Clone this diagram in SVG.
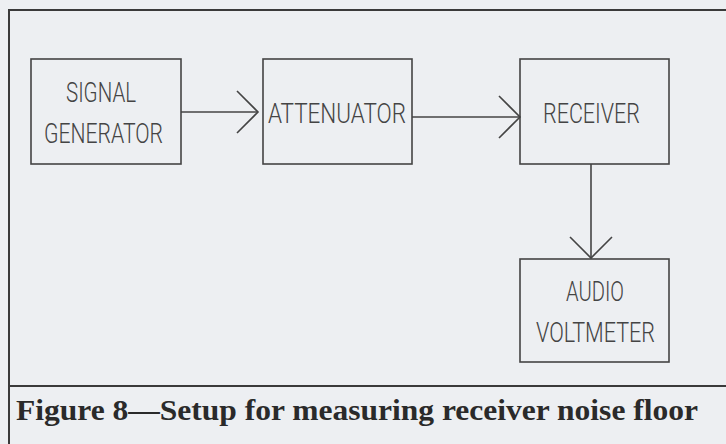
<svg xmlns="http://www.w3.org/2000/svg" width="726" height="444" viewBox="0 0 726 444">
<style>
.box{fill:none;stroke:#444;stroke-width:1.6}
.lbl{font-family:Roboto,"Liberation Sans",Arial,sans-serif;font-weight:300;font-size:28px;fill:#444;text-anchor:start}
.frame{fill:none;stroke:#3a3a3a;stroke-width:2}
.conn{fill:none;stroke:#444;stroke-width:1.6}
.cap{font-family:"Liberation Serif","Times New Roman",serif;font-weight:bold;font-size:29px;fill:#2a2a2a}
</style>
<defs>
<marker id="chev" markerUnits="userSpaceOnUse" viewBox="-24 -24 28 48" refX="0" refY="0" markerWidth="28" markerHeight="48" orient="auto">
<path d="M-21,-21 L0,0 L-21,21" fill="none" stroke="#444" stroke-width="1.6"/>
</marker>
</defs>
<rect x="0" y="0" width="726" height="444" fill="#edeff2"/>
<g id="frame">
<path class="frame" d="M9,444 V10 H726"/>
<path class="frame" d="M9,386 H726"/>
</g>
<g id="connectors">
<path class="conn" d="M181,112 H258" marker-end="url(#chev)"/>
<path class="conn" d="M412,117 H520" marker-end="url(#chev)"/>
<path class="conn" d="M591,164 V258" marker-end="url(#chev)"/>
</g>
<g id="signal-generator">
<rect class="box" x="31" y="59" width="150" height="105"/>
<text class="lbl" x="66" y="102" textLength="70" lengthAdjust="spacingAndGlyphs">SIGNAL</text>
<text class="lbl" x="44" y="143" textLength="119" lengthAdjust="spacingAndGlyphs">GENERATOR</text>
</g>
<g id="attenuator">
<rect class="box" x="263" y="59" width="149" height="105"/>
<text class="lbl" x="268" y="123" textLength="138" lengthAdjust="spacingAndGlyphs">ATTENUATOR</text>
</g>
<g id="receiver">
<rect class="box" x="520" y="59" width="149" height="105"/>
<text class="lbl" x="543" y="123" textLength="97" lengthAdjust="spacingAndGlyphs">RECEIVER</text>
</g>
<g id="audio-voltmeter">
<rect class="box" x="520" y="259" width="149" height="103"/>
<text class="lbl" x="566" y="301" textLength="58" lengthAdjust="spacingAndGlyphs">AUDIO</text>
<text class="lbl" x="536" y="342" textLength="119" lengthAdjust="spacingAndGlyphs">VOLTMETER</text>
</g>
<g id="caption">
<text class="cap" x="16" y="420" textLength="682" lengthAdjust="spacingAndGlyphs">Figure 8—Setup for measuring receiver noise floor</text>
</g>
</svg>
